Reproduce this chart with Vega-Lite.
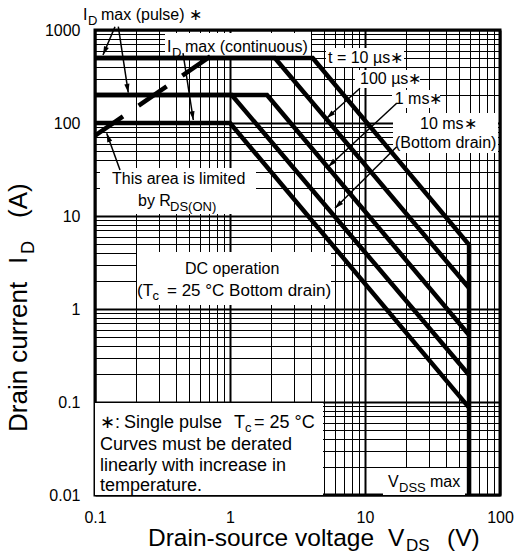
{
  "$schema": "https://vega.github.io/schema/vega-lite/v6.json",
  "width": 405,
  "height": 465,
  "autosize": {"type": "none"},
  "padding": {"left": 95, "top": 30, "right": 15, "bottom": 60},
  "background": "white",
  "config": {"view": {"stroke": "black", "strokeWidth": 3}, "font": "Liberation Sans"},
  "datasets": {
    "curves": [
      {"s": "10us", "k": 0, "v": 0.1, "i": 500}, {"s": "10us", "k": 1, "v": 4.1, "i": 500}, {"s": "10us", "k": 2, "v": 59, "i": 4.9}, {"s": "10us", "k": 3, "v": 59, "i": 0.01},
      {"s": "100us", "k": 0, "v": 0.1, "i": 500}, {"s": "100us", "k": 1, "v": 2.15, "i": 500}, {"s": "100us", "k": 2, "v": 59, "i": 1.68},
      {"s": "1ms", "k": 0, "v": 0.1, "i": 200}, {"s": "1ms", "k": 1, "v": 1.88, "i": 200}, {"s": "1ms", "k": 2, "v": 59, "i": 0.525},
      {"s": "10ms", "k": 0, "v": 0.1, "i": 200}, {"s": "10ms", "k": 1, "v": 1.03, "i": 200}, {"s": "10ms", "k": 2, "v": 59, "i": 0.195},
      {"s": "DC", "k": 0, "v": 0.1, "i": 100}, {"s": "DC", "k": 1, "v": 1.0, "i": 100}, {"s": "DC", "k": 2, "v": 59, "i": 0.087}
    ],
    "rds": [{"v": 0.1, "i": 73}, {"v": 0.74, "i": 540}],
    "boxes": [
      {"v": 0.330, "v2": 3.98, "i": 928.6, "i2": 525.3},
      {"v": 5.141, "v2": 19.45, "i": 640.5, "i2": 400},
      {"v": 8.431, "v2": 25.55, "i": 371.5, "i2": 237.8},
      {"v": 15.85, "v2": 35.94, "i": 226.3, "i2": 145},
      {"v": 16.12, "v2": 96.65, "i": 128.1, "i2": 47.6},
      {"v": 0.1089, "v2": 1.558, "i": 32.8, "i2": 10.51},
      {"v": 0.2047, "v2": 5.6, "i": 4.102, "i2": 1.104},
      {"v": 0.1, "v2": 4.886, "i": 0.0975, "i2": 0.01},
      {"v": 13.59, "v2": 55.05, "i": 0.01952, "i2": 0.01}
    ],
    "arrows": [
      {"v": 0.1406, "i": 1085, "v2": 0.1146, "i2": 538.5},
      {"v": 0.1488, "i": 1085, "v2": 0.1764, "i2": 211.8},
      {"v": 0.4485, "i": 565.6, "v2": 0.5349, "i2": 107.7},
      {"v": 0.1532, "i": 31.2, "v2": 0.1221, "i2": 77.5},
      {"v": 9.184, "i": 236.1, "v2": 5.203, "i2": 112.3},
      {"v": 17.17, "i": 162.8, "v2": 5.346, "i2": 33.9},
      {"v": 17.17, "i": 55.6, "v2": 5.995, "i2": 12.1}
    ],
    "heads": [
      {"v": 0.1146, "i": 538.5, "h": 203},
      {"v": 0.1764, "i": 211.8, "h": 171},
      {"v": 0.5349, "i": 107.7, "h": 171},
      {"v": 0.1221, "i": 77.5, "h": 340},
      {"v": 5.203, "i": 112.3, "h": 228},
      {"v": 5.346, "i": 33.9, "h": 227},
      {"v": 5.995, "i": 12.1, "h": 225}
    ],
    "notes": [
      {"t": "I", "v": 0.0815, "i": 1281},
      {"t": "max (pulse) ∗", "v": 0.1108, "i": 1281},
      {"t": "I", "v": 0.3415, "i": 580},
      {"t": "max (continuous)", "v": 0.4642, "i": 580},
      {"t": "t = 10 µs∗", "v": 5.319, "i": 441.8},
      {"t": "100 µs∗", "v": 9.184, "i": 262.6},
      {"t": "1 ms∗", "v": 16.6, "i": 160.1},
      {"t": "10 ms∗", "v": 25.55, "i": 86.2},
      {"t": "(Bottom drain)", "v": 16.68, "i": 53.85},
      {"t": "This area is limited", "v": 0.1336, "i": 22.08},
      {"t": "by R", "v": 0.2082, "i": 12.81},
      {"t": "DC operation", "v": 0.4642, "i": 2.378},
      {"t": "V", "v": 14.81, "i": 0.01219},
      {"t": "max", "v": 30.3, "i": 0.01219}
    ],
    "notesmid": [
      {"t": "(T", "v": 0.2047, "i": 1.38},
      {"t": "= 25 °C Bottom drain)", "v": 0.3415, "i": 1.38}
    ],
    "notesbig": [
      {"t": "∗:", "v": 0.1089, "i": 0.05254},
      {"t": "Single pulse", "v": 0.164, "i": 0.05254},
      {"t": "T", "v": 1.071, "i": 0.05254},
      {"t": "= 25 °C", "v": 1.506, "i": 0.05254},
      {"t": "Curves must be derated", "v": 0.1089, "i": 0.03048},
      {"t": "linearly with increase in", "v": 0.1089, "i": 0.01811},
      {"t": "temperature.", "v": 0.1089, "i": 0.01104}
    ],
    "subs": [
      {"t": "D", "v": 0.0887, "i": 1132},
      {"t": "D", "v": 0.3718, "i": 512.6},
      {"t": "DS(ON)", "v": 0.3594, "i": 11.32},
      {"t": "c", "v": 0.2671, "i": 1.25},
      {"t": "c", "v": 1.292, "i": 0.04757},
      {"t": "DSS", "v": 17.86, "i": 0.01077}
    ],
    "xtitle": [
      {"t": "Drain-source voltage", "v": 0.2469, "i": 0.00283},
      {"t": "V", "v": 14.81, "i": 0.00283},
      {"t": "(V)", "v": 40.5, "i": 0.00283}
    ],
    "xtitlesub": [{"t": "DS", "v": 20.12, "i": 0.0025}],
    "ytitle": [
      {"t": "Drain current", "v": 0.0311, "i": 0.04756},
      {"t": "I", "v": 0.0311, "i": 3.047},
      {"t": "(A)", "v": 0.0311, "i": 9.517}
    ],
    "ytitlesub": [{"t": "D", "v": 0.03531, "i": 3.903}]
  },
  "encoding": {
    "x": {
      "field": "v", "type": "quantitative",
      "scale": {"type": "log", "domain": [0.1, 100], "nice": false},
      "axis": {
        "title": null,
        "values": [0.1, 0.2, 0.3, 0.4, 0.5, 0.6, 0.7, 0.8, 0.9, 1, 2, 3, 4, 5, 6, 7, 8, 9, 10, 20, 30, 40, 50, 60, 70, 80, 90, 100],
        "grid": true, "gridColor": "black", "gridOpacity": 1,
        "gridWidth": {"condition": {"test": "abs(log(datum.value)/LN10 - round(log(datum.value)/LN10)) < 0.001", "value": 2}, "value": 1},
        "ticks": false, "domain": false,
        "labelExpr": "abs(log(datum.value)/LN10 - round(log(datum.value)/LN10)) < 0.001 ? '' + datum.value : ''",
        "labelFont": "Liberation Sans", "labelFontSize": 16, "labelColor": "black",
        "labelPadding": 14, "labelOverlap": false, "labelFlush": false, "labelBound": false
      }
    },
    "y": {
      "field": "i", "type": "quantitative",
      "scale": {"type": "log", "domain": [0.01, 1000], "nice": false},
      "axis": {
        "title": null,
        "values": [0.01, 0.02, 0.03, 0.04, 0.05, 0.06, 0.07, 0.08, 0.09, 0.1, 0.2, 0.3, 0.4, 0.5, 0.6, 0.7, 0.8, 0.9, 1, 2, 3, 4, 5, 6, 7, 8, 9, 10, 20, 30, 40, 50, 60, 70, 80, 90, 100, 200, 300, 400, 500, 600, 700, 800, 900, 1000],
        "grid": true, "gridColor": "black", "gridOpacity": 1,
        "gridWidth": {"condition": {"test": "abs(log(datum.value)/LN10 - round(log(datum.value)/LN10)) < 0.001", "value": 2}, "value": 1},
        "ticks": false, "domain": false,
        "labelExpr": "abs(log(datum.value)/LN10 - round(log(datum.value)/LN10)) < 0.001 ? '' + datum.value : ''",
        "labelFont": "Liberation Sans", "labelFontSize": 16, "labelColor": "black",
        "labelPadding": 15, "labelOverlap": false, "labelFlush": false, "labelBound": false
      }
    }
  },
  "layer": [
    {"data": {"name": "boxes"}, "mark": {"type": "rect", "fill": "white", "stroke": null},
     "encoding": {"x2": {"field": "v2"}, "y2": {"field": "i2"}}},
    {"data": {"name": "curves"}, "mark": {"type": "line", "color": "black", "strokeWidth": 4.5, "strokeJoin": "miter", "strokeCap": "butt"},
     "encoding": {"detail": {"field": "s"}, "order": {"field": "k", "type": "quantitative"}}},
    {"data": {"name": "rds"}, "mark": {"type": "line", "color": "black", "strokeWidth": 4.5, "strokeDash": [34, 19], "strokeCap": "butt"},
     "encoding": {}},
    {"data": {"name": "arrows"}, "mark": {"type": "rule", "color": "black", "strokeWidth": 1.5},
     "encoding": {"x2": {"field": "v2"}, "y2": {"field": "i2"}}},
    {"data": {"name": "heads"}, "mark": {"type": "point", "filled": true, "color": "black", "opacity": 1, "size": 64, "shape": "M0,0L-0.65,2.2L0.65,2.2Z"},
     "encoding": {"angle": {"field": "h", "type": "quantitative", "scale": null}}},
    {"data": {"name": "notes"}, "mark": {"type": "text", "align": "left", "baseline": "alphabetic", "fontSize": 16, "font": "Liberation Sans", "color": "black"},
     "encoding": {"text": {"field": "t"}}},
    {"data": {"name": "notesmid"}, "mark": {"type": "text", "align": "left", "baseline": "alphabetic", "fontSize": 17, "font": "Liberation Sans", "color": "black"},
     "encoding": {"text": {"field": "t"}}},
    {"data": {"name": "notesbig"}, "mark": {"type": "text", "align": "left", "baseline": "alphabetic", "fontSize": 18, "font": "Liberation Sans", "color": "black"},
     "encoding": {"text": {"field": "t"}}},
    {"data": {"name": "subs"}, "mark": {"type": "text", "align": "left", "baseline": "alphabetic", "fontSize": 13, "font": "Liberation Sans", "color": "black"},
     "encoding": {"text": {"field": "t"}}},
    {"data": {"name": "xtitle"}, "mark": {"type": "text", "align": "left", "baseline": "alphabetic", "fontSize": 24.5, "font": "Liberation Sans", "color": "black"},
     "encoding": {"text": {"field": "t"}}},
    {"data": {"name": "xtitlesub"}, "mark": {"type": "text", "align": "left", "baseline": "alphabetic", "fontSize": 17, "font": "Liberation Sans", "color": "black"},
     "encoding": {"text": {"field": "t"}}},
    {"data": {"name": "ytitle"}, "mark": {"type": "text", "align": "left", "baseline": "alphabetic", "fontSize": 26, "font": "Liberation Sans", "color": "black", "angle": 270},
     "encoding": {"text": {"field": "t"}}},
    {"data": {"name": "ytitlesub"}, "mark": {"type": "text", "align": "left", "baseline": "alphabetic", "fontSize": 18, "font": "Liberation Sans", "color": "black", "angle": 270},
     "encoding": {"text": {"field": "t"}}}
  ]
}
